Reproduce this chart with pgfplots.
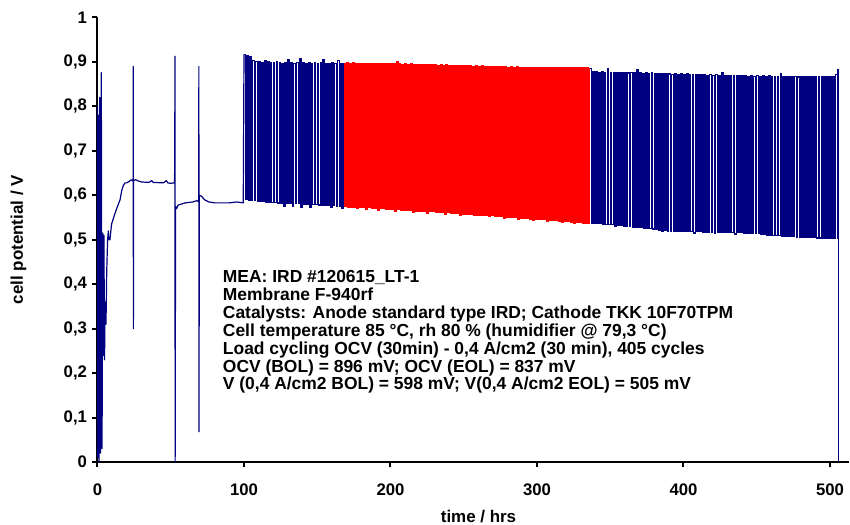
\documentclass[border=0pt]{standalone}
\usepackage{pgfplots}
\pgfplotsset{compat=1.18}
\usepackage{fontspec}
\setmainfont{Liberation Sans}
\definecolor{navy}{RGB}{0,0,128}
\definecolor{pred}{RGB}{255,0,0}
\begin{document}
\begin{tikzpicture}
\path[use as bounding box] (-97.5bp,-63bp) rectangle (752.5bp,462bp);
\begin{axis}[
  at={(0,0)}, anchor=south west,
  scale only axis, width=751.5bp, height=444.5bp,
  xmin=0, xmax=513, ymin=0, ymax=1,
  axis x line*=bottom, axis y line*=left,
  axis line style={line width=2bp, black, -},
  xtick={0,100,200,300,400,500},
  ytick={0,0.1,0.2,0.3,0.4,0.5,0.6,0.7,0.8,0.9,1},
  tick align=outside, major tick length=5bp,
  tick style={line width=2bp, black},
  /pgf/number format/.cd, use comma, fixed, precision=1, assume math mode=true,
  /pgfplots/.cd,
  tick label style={font=\fontsize{16.8}{17}\selectfont\bfseries},
  xticklabel style={anchor=north, yshift=-13bp},
  yticklabel style={anchor=east, xshift=-2bp},
  xlabel={time / hrs}, ylabel={cell potential / V},
  xlabel style={at={(axis description cs:0.507,-0.1237)}, anchor=center, font=\fontsize{17}{18}\selectfont\bfseries},
  ylabel style={at={(axis description cs:-0.1051,0.5)}, rotate=0, anchor=center, font=\fontsize{17}{18}\selectfont\bfseries},
  clip=false,
]
% start-up and constant-load period
\addplot[navy, line width=1.2bp, line join=round] coordinates {
(0.0,0.80)(0.2,0.01)(0.6,0.78)(1.0,0.00)(1.5,0.82)(2.0,0.02)(2.6,0.876)(3.1,0.03)
(3.6,0.515)(4.0,0.24)(4.4,0.51)(4.8,0.23)(5.2,0.36)(5.8,0.31)(6.3,0.43)(6.9,0.50)
(7.4,0.52)(7.7,0.50)(8.5,0.50)(9.6,0.535)(11.5,0.555)(13.1,0.57)(15.4,0.59)(16.5,0.61)
(17.6,0.622)(18.8,0.628)(20,0.628)(22,0.632)(23,0.635)(24.3,0.632)(24.4,0.89)(24.5,0.30)
(24.6,0.633)(26,0.635)(28,0.632)(30,0.630)(35,0.629)(37,0.633)(38,0.629)(45,0.628)
(47,0.633)(48,0.628)(50,0.627)(52.5,0.628)(52.7,0.66)(52.9,0.913)(53.0,0.0)(53.3,0.575)
(54,0.57)(55,0.578)(57,0.58)(60,0.583)(65,0.585)(68,0.588)(69.1,0.585)(69.2,0.89)
(69.3,0.068)(69.5,0.60)(71,0.598)(73,0.59)(76,0.585)(80,0.583)(90,0.583)(95,0.585)
(99.5,0.583)(100,0.917)
};
% load cycling, part 1
\addplot[navy, line width=1.3bp, const plot] coordinates {
(100,0.917)(101,0.590)(102,0.915)(103,0.589)(104,0.912)(105,0.588)(106,0.903)(107,0.588)
(108,0.901)(109,0.587)(110,0.900)(111,0.586)(112,0.899)(113,0.586)(114,0.902)(115,0.585)
(116,0.900)(117,0.585)(118,0.899)(119,0.584)(120,0.898)(121,0.584)(122,0.900)(123,0.583)
(124,0.898)(125,0.583)(126,0.897)(127,0.576)(128,0.899)(129,0.582)(130,0.906)(131,0.582)
(132,0.898)(133,0.575)(134,0.897)(135,0.581)(136,0.899)(137,0.581)(138,0.907)(139,0.574)
(140,0.898)(141,0.580)(142,0.896)(143,0.580)(144,0.898)(145,0.573)(146,0.897)(147,0.579)
(148,0.899)(149,0.579)(150,0.896)(151,0.578)(152,0.898)(153,0.578)(154,0.905)(155,0.578)
(156,0.897)(157,0.577)(158,0.896)(159,0.572)(160,0.898)(161,0.577)(162,0.897)(163,0.576)
(164,0.903)(165,0.576)(166,0.896)(167,0.571)(168,0.897)
};
% load cycling, part 2 (red)
\addplot[pred, line width=1.5bp, const plot] coordinates {
(168,0.897)(169,0.575)(170,0.898)(171,0.574)(172,0.897)(173,0.574)(174,0.898)(175,0.573)
(176,0.897)(177,0.570)(178,0.897)(179,0.573)(180,0.896)(181,0.572)(182,0.897)(183,0.568)
(184,0.896)(185,0.572)(186,0.897)(187,0.571)(188,0.896)(189,0.571)(190,0.896)(191,0.567)
(192,0.897)(193,0.570)(194,0.896)(195,0.570)(196,0.895)(197,0.569)(198,0.896)(199,0.569)
(200,0.895)(201,0.568)(202,0.896)(203,0.564)(204,0.901)(205,0.568)(206,0.895)(207,0.567)
(208,0.894)(209,0.567)(210,0.895)(211,0.566)(212,0.894)(213,0.566)(214,0.895)(215,0.562)
(216,0.894)(217,0.565)(218,0.894)(219,0.565)(220,0.893)(221,0.564)(222,0.894)(223,0.564)
(224,0.893)(225,0.560)(226,0.894)(227,0.563)(228,0.893)(229,0.563)(230,0.893)(231,0.562)
(232,0.892)(233,0.562)(234,0.893)(235,0.561)(236,0.892)(237,0.558)(238,0.893)(239,0.561)
(240,0.892)(241,0.560)(242,0.892)(243,0.560)(244,0.891)(245,0.559)(246,0.892)(247,0.556)
(248,0.891)(249,0.558)(250,0.892)(251,0.558)(252,0.891)(253,0.557)(254,0.891)(255,0.557)
(256,0.890)(257,0.554)(258,0.891)(259,0.556)(260,0.890)(261,0.556)(262,0.891)(263,0.555)
(264,0.890)(265,0.555)(266,0.890)(267,0.552)(268,0.889)(269,0.554)(270,0.890)(271,0.553)
(272,0.889)(273,0.553)(274,0.890)(275,0.552)(276,0.889)(277,0.549)(278,0.889)(279,0.551)
(280,0.888)(281,0.551)(282,0.889)(283,0.550)(284,0.888)(285,0.550)(286,0.889)(287,0.547)
(288,0.888)(289,0.549)(290,0.888)(291,0.548)(292,0.887)(293,0.548)(294,0.888)(295,0.547)
(296,0.887)(297,0.544)(298,0.888)(299,0.546)(300,0.887)(301,0.546)(302,0.888)(303,0.545)
(304,0.887)(305,0.545)(306,0.887)(307,0.541)(308,0.887)(309,0.544)(310,0.886)(311,0.543)
(312,0.887)(313,0.543)(314,0.886)(315,0.542)(316,0.887)(317,0.539)(318,0.886)(319,0.541)
(320,0.887)(321,0.541)(322,0.886)(323,0.540)(324,0.887)(325,0.537)(326,0.886)(327,0.539)
(328,0.887)(329,0.539)(330,0.886)(331,0.538)(332,0.887)(333,0.538)(334,0.886)(335,0.537)
(336,0.886)
};
% load cycling, part 3
\addplot[navy, line width=1.3bp, const plot] coordinates {
(336,0.886)(337,0.537)(338,0.878)(339,0.537)(340,0.879)(341,0.536)(342,0.877)(343,0.536)
(344,0.878)(345,0.535)(346,0.877)(347,0.535)(348,0.884)(349,0.534)(350,0.877)(351,0.534)
(352,0.876)(353,0.530)(354,0.877)(355,0.533)(356,0.876)(357,0.532)(358,0.877)(359,0.531)
(360,0.876)(361,0.531)(362,0.875)(363,0.530)(364,0.876)(365,0.529)(366,0.875)(367,0.529)
(368,0.883)(369,0.528)(370,0.875)(371,0.527)(372,0.874)(373,0.526)(374,0.875)(375,0.526)
(376,0.874)(377,0.525)(378,0.875)(379,0.524)(380,0.874)(381,0.523)(382,0.873)(383,0.522)
(384,0.874)(385,0.519)(386,0.873)(387,0.521)(388,0.874)(389,0.520)(390,0.873)(391,0.520)
(392,0.872)(393,0.520)(394,0.873)(395,0.519)(396,0.872)(397,0.519)(398,0.873)(399,0.519)
(400,0.872)(401,0.518)(402,0.873)(403,0.518)(404,0.872)(405,0.518)(406,0.871)(407,0.515)
(408,0.872)(409,0.518)(410,0.871)(411,0.518)(412,0.872)(413,0.517)(414,0.871)(415,0.517)
(416,0.870)(417,0.517)(418,0.871)(419,0.517)(420,0.870)(421,0.514)(422,0.871)(423,0.517)
(424,0.870)(425,0.517)(426,0.876)(427,0.516)(428,0.870)(429,0.516)(430,0.869)(431,0.516)
(432,0.870)(433,0.516)(434,0.869)(435,0.513)(436,0.870)(437,0.516)(438,0.869)(439,0.516)
(440,0.870)(441,0.515)(442,0.869)(443,0.515)(444,0.868)(445,0.515)(446,0.869)(447,0.515)
(448,0.868)(449,0.514)(450,0.869)(451,0.514)(452,0.868)(453,0.513)(454,0.869)(455,0.512)
(456,0.868)(457,0.511)(458,0.869)(459,0.510)(460,0.868)(461,0.510)(462,0.867)(463,0.509)
(464,0.868)(465,0.509)(466,0.874)(467,0.508)(468,0.867)(469,0.508)(470,0.868)(471,0.507)
(472,0.867)(473,0.507)(474,0.868)(475,0.507)(476,0.867)(477,0.506)(478,0.866)(479,0.506)
(480,0.867)(481,0.506)(482,0.866)(483,0.505)(484,0.867)(485,0.505)(486,0.866)(487,0.505)
(488,0.867)(489,0.505)(490,0.866)(491,0.504)(492,0.867)(493,0.504)(494,0.866)(495,0.504)
(496,0.867)(497,0.504)(498,0.866)(499,0.504)(500,0.867)(501,0.503)(502,0.866)(503,0.503)
(504,0.872)(505,0.503)(505.5,0.883)(505.8,0.002)
};
\node[anchor=north west, inner sep=0pt, align=left,
      font=\fontsize{17.5}{18}\selectfont\bfseries] at (axis cs:85.5,0.432) {%
MEA: IRD \#120615\_LT-1\\
Membrane F-940rf\\
Catalysts: Anode standard type IRD; Cathode TKK 10F70TPM\\
Cell temperature 85 °C, rh 80 \% (humidifier @ 79,3 °C)\\
Load cycling OCV (30min) - 0,4 A/cm2 (30 min), 405 cycles\\
OCV (BOL) = 896 mV; OCV (EOL) = 837 mV\\
V (0,4 A/cm2 BOL) = 598 mV; V(0,4 A/cm2 EOL) = 505 mV};
\end{axis}
\end{tikzpicture}
\end{document}
